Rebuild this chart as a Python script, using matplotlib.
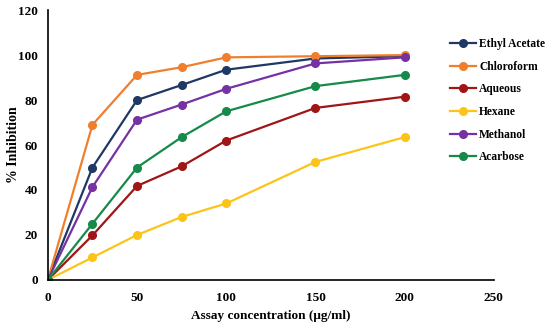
import matplotlib.pyplot as plt
import matplotlib

matplotlib.rc('font', family='Liberation Serif', weight='bold')

# concentraciones del ensayo
conc = [0, 25, 50, 75, 100, 150, 200]

ethyl_acetate = [0, 50, 80, 86.7, 93.5, 98.5, 99.5]
chloroform = [0, 69, 91.2, 94.6, 99, 99.5, 100]
aqueous = [0, 19.8, 41.8, 50.5, 62, 76.5, 81.5]
hexane = [0, 10, 20, 28, 34, 52.5, 63.5]
methanol = [0, 41.3, 71.3, 78, 85, 96.3, 99]
acarbose = [0, 25, 50, 63.5, 75, 86.2, 91.2]

series = [('Ethyl Acetate', ethyl_acetate, '#1f3864'),
          ('Chloroform', chloroform, '#f07f2d'),
          ('Aqueous', aqueous, '#a01515'),
          ('Hexane', hexane, '#fcc419'),
          ('Methanol', methanol, '#7432a3'),
          ('Acarbose', acarbose, '#168a48')]

fig = plt.figure(figsize=(5.5, 3.27), dpi=100)
ax = fig.add_axes([0.087, 0.144, 0.811, 0.825])

for nombre, valores, color in series:
    ax.plot(conc, valores, color=color, marker='o', markersize=5.5, linewidth=1.6, label=nombre)

ax.set_xlim(0, 250)
ax.set_ylim(0, 120)
ax.set_xticks([0, 50, 100, 150, 200, 250])
ax.set_yticks([0, 20, 40, 60, 80, 100, 120])
ax.tick_params(axis='x', length=0, labelsize=9.5, pad=9)
ax.tick_params(axis='y', length=0, labelsize=9.5, pad=7)
for s in ['top', 'right']:
    ax.spines[s].set_visible(False)
ax.spines['left'].set_linewidth(1.2)
ax.spines['bottom'].set_linewidth(1.2)
ax.set_xlabel('Assay concentration (μg/ml)', fontsize=9.5, fontweight='bold', labelpad=4)
ax.set_ylabel('% Inhibition', fontsize=10, fontweight='bold')
ax.yaxis.set_label_coords(-0.062, 0.5)

fig.legend(loc='upper left', bbox_to_anchor=(0.8, 0.915), frameon=False,
           fontsize=8.3, handlelength=2.2, labelspacing=0.92, handletextpad=0.3)

plt.savefig('out.png', dpi=100)
